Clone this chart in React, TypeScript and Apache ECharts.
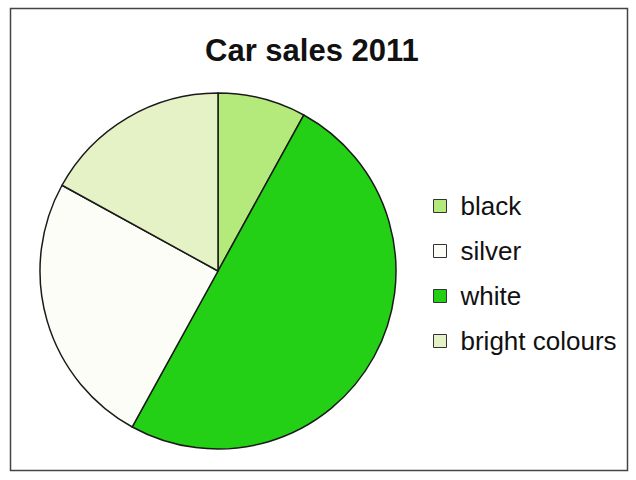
import React, { useEffect, useRef } from "react";
import * as echarts from "echarts";

const titleText = "Car sales 2011";
const categories = ["black", "silver", "white", "bright colours"];
const sliceOrder = ["black", "white", "silver", "bright colours"];
const values: Record<string, number> = { black: 8, white: 50, silver: 25, "bright colours": 17 };
const colors: Record<string, string> = {
  black: "#b4ea7c",
  white: "#24d015",
  silver: "#fdfdf7",
  "bright colours": "#e5f2c6",
};

export default function App() {
  const ref = useRef<HTMLDivElement>(null);
  useEffect(() => {
    if (!ref.current) return;
    const chart = echarts.init(ref.current, null, { renderer: "svg" });
    const data = sliceOrder.map((n) => ({
      name: n,
      value: values[n],
      itemStyle: { color: colors[n] },
    }));
    chart.setOption({
      animation: false,
      backgroundColor: "#ffffff",
      title: {
        text: titleText,
        left: 205,
        top: 35,
        padding: 0,
        textStyle: {
          fontFamily: "Liberation Sans",
          fontSize: 31,
          fontWeight: "bold",
          color: "#111",
        },
      },
      legend: {
        orient: "vertical",
        left: 428,
        top: 188,
        data: categories,
        icon: "rect",
        itemWidth: 13,
        itemHeight: 13,
        itemGap: 19,
        itemStyle: { borderColor: "#333", borderWidth: 1 },
        textStyle: {
          fontFamily: "Liberation Sans",
          fontSize: 26,
          color: "#111",
          padding: [0, 0, 0, 9],
        },
      },
      graphic: [
        {
          type: "rect",
          shape: { x: 10.5, y: 8.5, width: 617, height: 462 },
          style: { fill: "none", stroke: "#444", lineWidth: 1.5 },
        },
      ],
      series: [
        {
          type: "pie",
          center: [218, 271],
          radius: 178,
          startAngle: 90,
          clockwise: true,
          label: { show: false },
          labelLine: { show: false },
          emphasis: { disabled: true },
          itemStyle: { borderColor: "#1a1a1a", borderWidth: 1.5 },
          data,
        },
      ],
    });
    return () => chart.dispose();
  }, []);
  return (
    <div
      ref={ref}
      style={{ position: "absolute", left: 0, top: 0, width: 636, height: 480 }}
    />
  );
}
